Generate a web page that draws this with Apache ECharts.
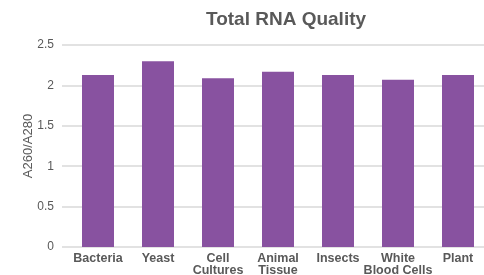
<!DOCTYPE html>
<html>
<head>
<meta charset="utf-8">
<script src="https://cdn.jsdelivr.net/npm/echarts@6/dist/echarts.min.js"></script>
<style>
  html, body { margin: 0; padding: 0; background: #fff; }
  #chart { width: 484px; height: 275px; }
</style>
</head>
<body>
<div id="chart"></div>
<script>
// RNA 质量数据
var categories = ['Bacteria', 'Yeast', 'Cell\nCultures', 'Animal\nTissue', 'Insects', 'White\nBlood Cells', 'Plant'];
var ratios = [2.13, 2.30, 2.09, 2.17, 2.13, 2.07, 2.13];
var yTicks = [0, 0.5, 1, 1.5, 2, 2.5];

var textGray = '#595959';
var font = '"Liberation Sans", Arial, sans-serif';

var myChart = echarts.init(document.getElementById('chart'));
var option = {
	animation : false,
	title : {
		text : 'Total RNA Quality',
		left : 281,
		textAlign : 'center',
		top : 5,
		textStyle : {
			color : textGray,
			fontSize : 19,
			fontWeight : 'bold',
			fontFamily : font
		}
	},
	grid : [
		// 网格线和 y 轴
		{ left : 62, right : 0, top : 45, bottom : 28, outerBoundsMode : 'none' },
		// 柱子
		{ left : 68, right : -4, top : 45, bottom : 28, outerBoundsMode : 'none' }
	],
	xAxis : [
		{ gridIndex : 0, type : 'category', data : categories, show : false },
		{
			gridIndex : 1,
			type : 'category',
			data : categories,
			axisLine : { show : false },
			axisTick : { show : false },
			axisLabel : {
				interval : 0,
				color : textGray,
				fontSize : 12.5,
				fontWeight : 'bold',
				fontFamily : font,
				lineHeight : 12,
				margin : 6,
				verticalAlign : 'top'
			}
		}
	],
	yAxis : [
		{
			gridIndex : 0,
			type : 'value',
			min : yTicks[0],
			max : yTicks[yTicks.length - 1],
			interval : 0.5,
			name : 'A260/A280',
			nameLocation : 'middle',
			nameGap : 27,
			nameMoveOverlap : false,
			nameTextStyle : { color : textGray, fontSize : 13, fontFamily : font },
			axisLine : { show : false },
			axisTick : { show : false },
			axisLabel : { color : textGray, fontSize : 12, fontFamily : font, margin : 8 },
			splitLine : { lineStyle : { color : '#d9d9d9', width : 1.5 } }
		},
		{
			gridIndex : 1,
			type : 'value',
			min : yTicks[0],
			max : yTicks[yTicks.length - 1],
			show : false
		}
	],
	series : [ {
		name : 'A260/A280',
		type : 'bar',
		xAxisIndex : 1,
		yAxisIndex : 1,
		barWidth : 32,
		itemStyle : { color : '#8852A0' },
		data : ratios
	} ]
};
myChart.setOption(option);
</script>
</body>
</html>
